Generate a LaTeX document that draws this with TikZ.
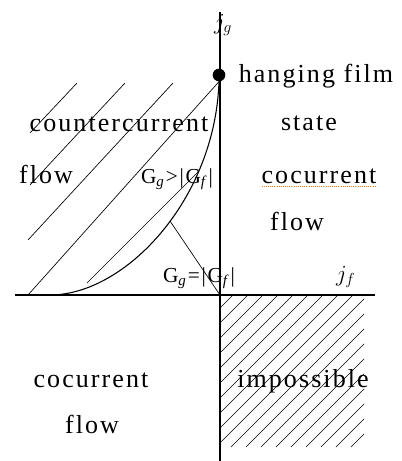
\documentclass[tikz,border=0pt]{standalone}
\usepackage{fontspec}
\setmainfont[LetterSpace=8]{Liberation Serif}
\usepackage{tikz}

\newcommand{\subi}[1]{\textsubscript{\textit{#1}}}

\begin{document}
\begin{tikzpicture}[
  x=0.75pt, y=-0.75pt,
  axis/.style={line width=1pt},
  border/.style={line width=0.8pt},
  hatch/.style={line width=0.5pt},
  region/.style={inner sep=0pt, outer sep=0pt, anchor=base,
    font=\fontsize{19.5}{22}\selectfont},
  relation/.style={inner sep=0pt, outer sep=0pt, anchor=base,
    font=\fontsize{16}{18}\selectfont},
  axislabel/.style={inner sep=0pt, outer sep=0pt, anchor=base west,
    font=\fontsize{17}{19}\selectfont},
  dot/.style={circle, fill=black, inner sep=0pt, minimum size=9.5pt},
  spell/.style={draw=orange!90!red, densely dotted, line width=0.6pt}
]
% 401 by 461 pixel canvas, y pointing down
\path[use as bounding box] (0,0) rectangle (401,461);

% axes
\coordinate (O) at (220,295);
\coordinate (jgtop) at (220,12);
\coordinate (jgbot) at (220,461);
\coordinate (jfleft) at (15,295);
\coordinate (jfright) at (375,295);
\draw[axis] (jgbot) -- (jgtop);
\draw[axis] (jfleft) -- (jfright);

\node[axislabel] (jg) at (214,29) {$j_g$};
\node[axislabel] (jf) at (336,281) {$j_f$};

% hanging film point and the boundary curve down to the j_f axis
\node[dot] (film) at (219,75) {};
\coordinate (flood) at (50,295);
\coordinate (equal) at (170,221);
\coordinate (upper) at (199,171);
\draw[border] (film.south) .. controls (215,200) and (125,295) .. (flood);
\draw[line width=2pt] (flood) -- ++(17,0);
\draw[hatch] (O) -- (equal);

% countercurrent hatching, drawn by hand
\draw[hatch] (77,83) -- (30,133);
\draw[hatch] (125,83) -- (30,185);
\draw[hatch] (173,83) -- (28,240);
\draw[hatch] (film.south) -- (28,295);
\draw[hatch] (upper) -- (87,283);

% impossible quadrant
\begin{scope}
  \clip (O) rectangle (364,447);
  \foreach \a in {66,81,...,366}
    \draw[hatch] (\a,447) -- ++(152,-152);
\end{scope}

% region texts
\node[region] (hanging) at (316,82) {hanging film};
\node[region] (counter) at (119,131) {countercurrent};
\node[region] (state) at (309,130) {state};
\node[region] (flowA) at (46,183) {flow};
\node[relation] (greater) at (177,183) {G\subi{g}>|G\subi{f}|};
\node[region] (cocurA) at (319,183) {cocurrent};
\node[region] (flowB) at (297,230) {flow};
\node[relation] (equality) at (199,282) {G\subi{g}=|G\subi{f}|};
\node[region] (cocurB) at (91,387) {cocurrent};
\node[region] (flowC) at (92,433) {flow};
\node[region] (impossible) at (303,387) {impossible};
\draw[spell] ([yshift=-2pt]cocurA.south west) -- ([yshift=-2pt]cocurA.south east);
\end{tikzpicture}
\end{document}
